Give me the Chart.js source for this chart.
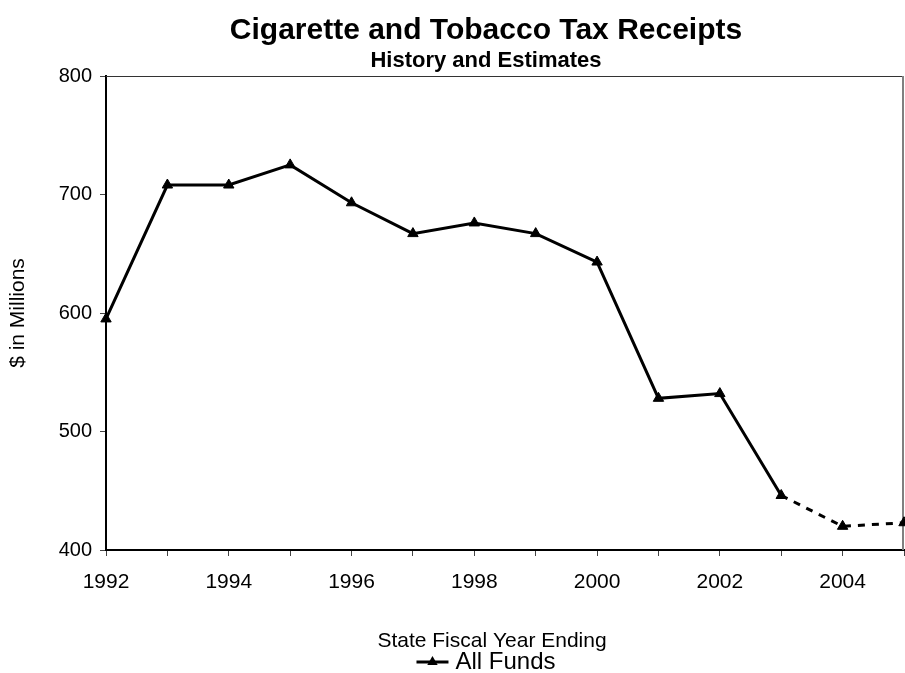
<!DOCTYPE html>
<html>
<head>
<meta charset="utf-8">
<script src="https://cdn.jsdelivr.net/npm/chart.js@4.4.1/dist/chart.umd.min.js"></script>
<style>
  html, body { margin:0; padding:0; background:#fff; }
  #wrap { width:905px; height:673px; position:relative; }
</style>
</head>
<body>
<div id="wrap"><canvas id="c"></canvas></div>
<script>
// fiscal years and receipts ($ millions)
const years = [1992, 1993, 1994, 1995, 1996, 1997, 1998, 1999, 2000, 2001, 2002, 2003, 2004, 2005];
const receipts = [595, 708, 708, 725, 693, 667, 676, 667, 643, 528, 532, 446, 420, 423];
const estimateFrom = 2003; // segments after this year are estimates (dashed)
const yTicks = [400, 500, 600, 700, 800];
const seriesName = 'All Funds';
const titleText = 'Cigarette and Tobacco Tax Receipts';
const subtitleText = 'History and Estimates';
const xTitle = 'State Fiscal Year Ending';

const FONT = "'Liberation Sans', Arial, sans-serif";
const CENTER_X = 486; // the original chart was wider than the picture, texts centre here

// plot frame on top and right
const framePlugin = {
  id: 'frame',
  beforeDatasetsDraw(chart) {
    const a = chart.chartArea, ctx = chart.ctx;
    ctx.save();
    ctx.strokeStyle = '#333';
    ctx.lineWidth = 1;
    ctx.beginPath();
    ctx.moveTo(a.left, a.top + 0.5);
    ctx.lineTo(a.right, a.top + 0.5);
    ctx.stroke();
    ctx.strokeStyle = '#808080';
    ctx.lineWidth = 2;
    ctx.beginPath();
    ctx.moveTo(a.right - 1, a.top);
    ctx.lineTo(a.right - 1, a.bottom);
    ctx.stroke();
    ctx.restore();
  }
};

// titles, x axis title and the legend (line + triangle, then name)
const textPlugin = {
  id: 'texts',
  afterDraw(chart) {
    const ctx = chart.ctx;
    ctx.save();
    ctx.fillStyle = '#000';
    ctx.textAlign = 'center';
    ctx.textBaseline = 'middle';
    ctx.font = 'bold 30px ' + FONT;
    ctx.fillText(titleText, CENTER_X, 31);
    ctx.font = 'bold 22px ' + FONT;
    ctx.fillText(subtitleText, CENTER_X, 61);
    ctx.font = '21px ' + FONT;
    ctx.fillText(xTitle, CENTER_X + 6, 641);

    const y = 662, len = 32;
    ctx.font = '24px ' + FONT;
    const tw = ctx.measureText(seriesName).width;
    const x0 = CENTER_X - (len + 7 + tw) / 2;
    ctx.strokeStyle = '#000';
    ctx.lineWidth = 3;
    ctx.beginPath();
    ctx.moveTo(x0, y);
    ctx.lineTo(x0 + len, y);
    ctx.stroke();
    const cx = x0 + len / 2, r = 6;
    ctx.beginPath();
    ctx.moveTo(cx, y - r);
    ctx.lineTo(cx + r * 0.866, y + r * 0.5);
    ctx.lineTo(cx - r * 0.866, y + r * 0.5);
    ctx.closePath();
    ctx.fill();
    ctx.textAlign = 'left';
    ctx.fillText(seriesName, x0 + len + 7, y);
    ctx.restore();
  }
};

new Chart(document.getElementById('c'), {
  type: 'line',
  data: {
    datasets: [{
      label: seriesName,
      data: years.map((yr, i) => ({ x: yr, y: receipts[i] })),
      borderColor: '#000',
      borderWidth: 3,
      pointStyle: 'triangle',
      pointRadius: 6,
      pointBackgroundColor: '#000',
      pointBorderColor: '#000',
      pointBorderWidth: 1,
      tension: 0,
      clip: false,
      segment: {
        borderDash: ctx => ctx.p0.parsed.x >= estimateFrom ? [7, 7] : undefined
      }
    }]
  },
  options: {
    responsive: true,
    maintainAspectRatio: false,
    animation: false,
    layout: { autoPadding: false, padding: { top: 76, left: 0, right: 1, bottom: 23 } },
    plugins: {
      legend: { display: false },
      tooltip: { enabled: false },
      title: { display: false }
    },
    scales: {
      x: {
        type: 'linear',
        min: years[0],
        max: years[years.length - 1],
        afterFit(s) { s.height = 100; s.paddingRight = 0; },
        border: { display: true, color: '#000', width: 2 },
        grid: { drawOnChartArea: false, drawTicks: true, tickLength: 6, color: '#444', lineWidth: 1 },
        ticks: {
          stepSize: 1,
          autoSkip: false,
          maxRotation: 0,
          padding: 14,
          color: '#000',
          font: { family: FONT, size: 21 },
          callback: v => (v % 2 === 0 ? String(v) : '')
        }
      },
      y: {
        min: yTicks[0],
        max: yTicks[yTicks.length - 1],
        afterFit(s) { s.width = 106; },
        afterBuildTicks(s) { s.ticks = yTicks.map(v => ({ value: v })); },
        border: { display: true, color: '#000', width: 2 },
        grid: { drawOnChartArea: false, drawTicks: true, tickLength: 6, color: '#444', lineWidth: 1 },
        ticks: {
          padding: 8,
          color: '#000',
          font: { family: FONT, size: 20 }
        },
        title: {
          display: true,
          text: '$ in Millions',
          color: '#000',
          font: { family: FONT, size: 21 },
          padding: { top: 6, bottom: 0 }
        }
      }
    }
  },
  plugins: [framePlugin, textPlugin]
});
</script>
</body>
</html>
